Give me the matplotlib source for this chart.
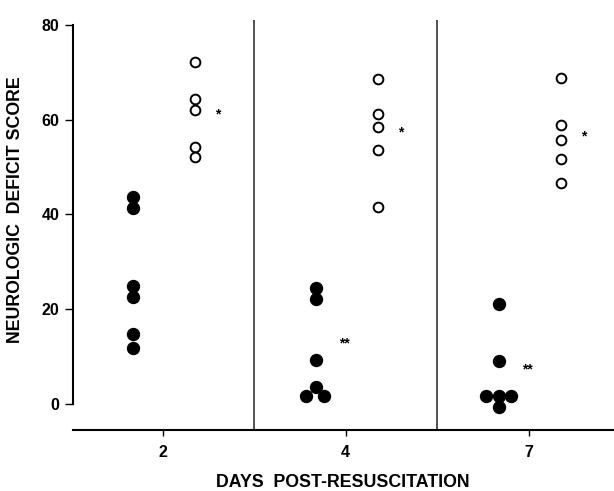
import matplotlib.pyplot as plt

plt.rcParams['font.family'] = ['Liberation Sans', 'DejaVu Sans']
plt.rcParams['font.weight'] = 'bold'

# days post-resuscitation, one group per tick
days = ['2', '4', '7']

# neurologic deficit scores
filled_scores = [
    [43.7, 41.3, 24.9, 22.6, 14.8, 11.8],
    [24.5, 22.1, 9.3, 3.5, 1.75, 1.75],
    [21.1, 9.1, 1.75, 1.75, 1.75, -0.7],
]
# small sideways shifts for overlapping dots
filled_shift = [
    [0, 0, 0, 0, 0, 0],
    [0, 0, 0, 0, -0.055, 0.045],
    [0, 0, 0, -0.068, 0.068, 0],
]
open_scores = [
    [72.1, 64.3, 62.1, 54.2, 52.2],
    [68.6, 61.1, 58.5, 53.6, 41.6],
    [68.8, 58.8, 55.7, 51.8, 46.7],
]
# significance marks: (label, score)
open_marks = [('*', 61.0), ('*', 57.4), ('*', 56.5)]
filled_marks = [None, ('**', 12.8), ('**', 7.2)]

fig = plt.figure(figsize=(6.14, 4.91), dpi=100)
ax = fig.add_axes([0.119, 0.124, 0.885, 0.835])

for i in range(len(days)):
    xs = [i - 0.163 + s for s in filled_shift[i]]
    ax.plot(xs, filled_scores[i], 'o', color='black', markersize=8.6, zorder=3)
    ax.plot([i + 0.175] * len(open_scores[i]), open_scores[i], 'o',
            markerfacecolor='white', markeredgecolor='black',
            markersize=7, markeredgewidth=1.4, zorder=3)
    lab, val = open_marks[i]
    ax.text(i + 0.3, val, lab, ha='center', va='center', fontsize=10)
    if filled_marks[i] is not None:
        lab, val = filled_marks[i]
        ax.text(i - 0.005, val, lab, ha='center', va='center', fontsize=10)

# group dividers
for x in [0.5, 1.5]:
    ax.axvline(x, color='#333333', linewidth=1.2, zorder=1)

ax.set_xlim(-0.49, 2.48)
ax.set_ylim(-5.5, 81)
ax.set_xticks(range(len(days)))
ax.set_xticklabels(days)
ax.set_yticks([0, 20, 40, 60, 80])

for s in ['top', 'right']:
    ax.spines[s].set_visible(False)
ax.spines['left'].set_bounds(0, 80)
ax.spines['left'].set_linewidth(1.5)
ax.spines['bottom'].set_linewidth(1.5)
ax.tick_params(axis='y', length=6, width=1, labelsize=11.5, pad=4)
ax.tick_params(axis='x', length=4, width=1, labelsize=11.5, pad=7)

ax.set_ylabel('NEUROLOGIC  DEFICIT SCORE', fontsize=12.8, fontweight='bold')
ax.set_xlabel('DAYS  POST-RESUSCITATION', fontsize=12.8, fontweight='bold')
ax.yaxis.set_label_coords(-0.090, 0.537)
ax.xaxis.set_label_coords(0.496, -0.106)

fig.savefig('out.png', dpi=100)
